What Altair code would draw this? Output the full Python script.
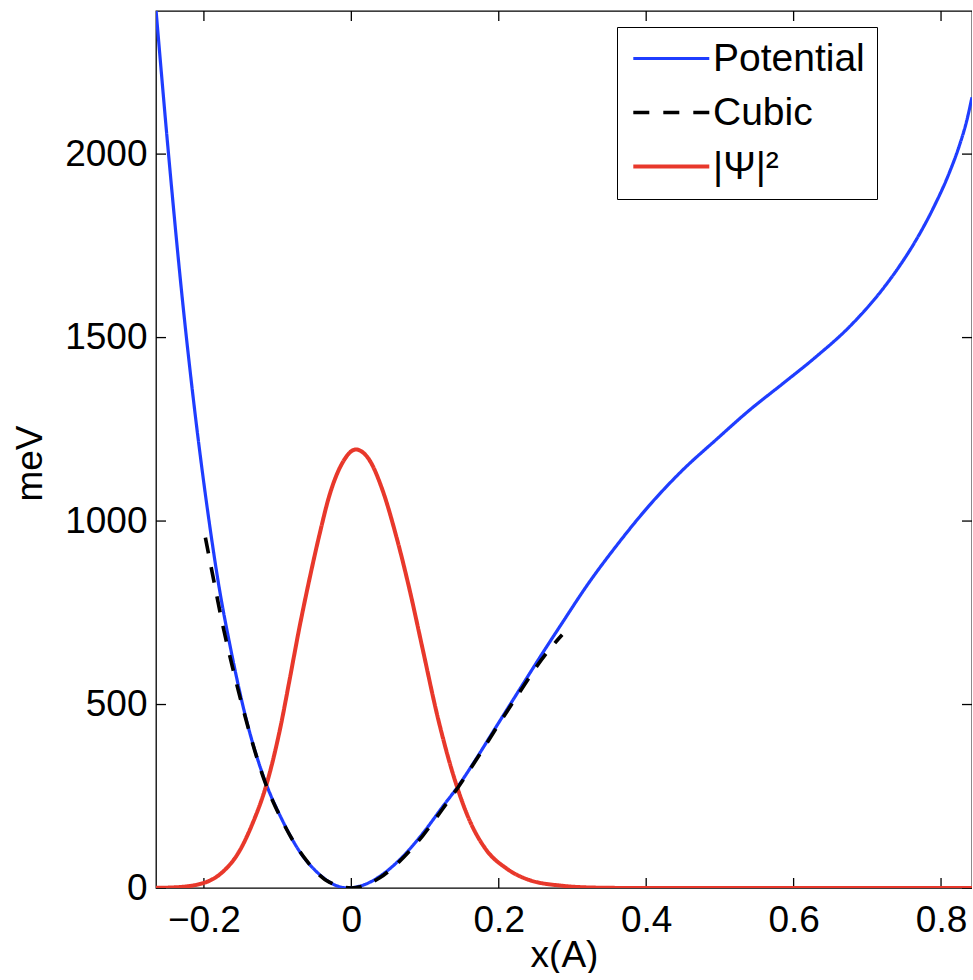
import altair as alt
import pandas as pd

# ---- data ----
pot_x = [-0.265, -0.248, -0.229, -0.213, -0.193, -0.179, -0.165, -0.143, -0.120, -0.093,
         -0.071, -0.048, -0.021, -0.005, 0.015, 0.038, 0.065, 0.097, 0.124, 0.144,
         0.169, 0.192, 0.232, 0.268, 0.282, 0.323, 0.359, 0.404, 0.449, 0.495,
         0.540, 0.585, 0.630, 0.675, 0.720, 0.743, 0.765, 0.790, 0.811, 0.825,
         0.835, 0.842]
pot_y = [2393, 2000, 1600, 1310, 1000, 815, 665, 463, 308, 182,
         102, 46, 7, 0, 7, 31, 76, 149, 222, 275,
         351, 425, 553, 667, 710, 834, 931, 1042, 1138, 1222,
         1302, 1374, 1447, 1528, 1630, 1693, 1762, 1855, 1948, 2024,
         2092, 2155]

cub_x = [-0.198, -0.188, -0.174, -0.161, -0.145, -0.120, -0.093, -0.061, -0.030, 0.0,
         0.038, 0.065, 0.097, 0.124, 0.144, 0.169, 0.205, 0.232, 0.250, 0.268, 0.286]
cub_y = [955, 852, 712, 600, 474, 305, 180, 75, 16, 0,
         27, 72, 143, 216, 272, 348, 462, 545, 600, 648, 690]

psi_x = [-0.265, -0.238, -0.200, -0.175, -0.152, -0.134, -0.116, -0.096, -0.084, -0.071,
         -0.057, -0.043, -0.030, -0.012, 0.006, 0.024, 0.042, 0.061, 0.079, 0.097,
         0.117, 0.144, 0.160, 0.183, 0.210, 0.241, 0.287, 0.332, 0.360, 0.400, 0.842]
psi_y = [0.4, 2, 14, 43, 100, 176, 276, 440, 565, 704,
         840, 965, 1068, 1159, 1195, 1168, 1086, 958, 813, 649,
         467, 272, 186, 104, 54, 22, 6, 1, 0.3, 0, 0]

x_ticks = [-0.2, 0, 0.2, 0.4, 0.6, 0.8]
y_ticks = [0, 500, 1000, 1500, 2000]
series_names = ["Potential", "Cubic", "|Ψ|²"]
series_colors = ["#1f3dff", "#000000", "#e8382b"]
series_dash = [[1, 0], [16, 14], [1, 0]]
series_width = [3.2, 4, 3]

rows = []
for name, xs, ys in [(series_names[0], pot_x, pot_y),
                     (series_names[2], psi_x, psi_y),
                     (series_names[1], cub_x, cub_y)]:
    for a, b in zip(xs, ys):
        rows.append({"series": name, "x": a, "y": b})
df = pd.DataFrame(rows)
xt = pd.DataFrame({"x": x_ticks})
yt = pd.DataFrame({"y": y_ticks})

W, H = 816, 877
FONT = "Liberation Sans"
FS = 37
xscale = alt.Scale(domain=[-0.265, 0.842], nice=False, zero=False)
yscale = alt.Scale(domain=[0, 2390], nice=False, zero=False)

legend = alt.Legend(title=None, orient="none", legendX=461, legendY=16)

lines = alt.Chart(df).mark_line(interpolate="monotone", clip=True).encode(
    x=alt.X("x:Q", scale=xscale,
            axis=alt.Axis(title="x(A)", values=x_ticks, format="~g", labelPadding=14,
                          titleY=67, titleBaseline="middle", titleX=408)),
    y=alt.Y("y:Q", scale=yscale,
            axis=alt.Axis(title="meV", values=y_ticks, format="d", labelPadding=9,
                          titleX=-126, titleY=452, titleBaseline="middle",
                          titleAlign="center", titleAngle=270)),
    color=alt.Color("series:N", scale=alt.Scale(domain=series_names, range=series_colors),
                    legend=legend),
    strokeDash=alt.StrokeDash("series:N", scale=alt.Scale(domain=series_names, range=series_dash),
                              legend=legend),
    strokeWidth=alt.StrokeWidth("series:N",
                                scale=alt.Scale(domain=series_names, range=series_width),
                                legend=None),
)

tick_style = dict(color="black", strokeWidth=1.3)
bottom_ticks = alt.Chart(xt).mark_rule(**tick_style).encode(
    x=alt.X("x:Q", scale=xscale), y=alt.value(H), y2=alt.value(H - 10))
top_ticks = alt.Chart(xt).mark_rule(**tick_style).encode(
    x=alt.X("x:Q", scale=xscale), y=alt.value(0), y2=alt.value(10))
left_ticks = alt.Chart(yt).mark_rule(**tick_style).encode(
    y=alt.Y("y:Q", scale=yscale), x=alt.value(0), x2=alt.value(10))
right_ticks = alt.Chart(yt).mark_rule(**tick_style).encode(
    y=alt.Y("y:Q", scale=yscale), x=alt.value(W), x2=alt.value(W - 10))

chart = alt.layer(bottom_ticks, top_ticks, left_ticks, right_ticks, lines).properties(
    width=W, height=H,
    autosize=alt.AutoSizeParams(type="none"),
    padding={"left": 156, "top": 11, "right": 0, "bottom": 85},
).configure_view(
    stroke="black", strokeWidth=1.3
).configure_axis(
    labelFont=FONT, labelFontSize=FS, labelColor="black", titleFont=FONT,
    titleFontSize=FS, titleFontWeight="normal", titleColor="black",
    ticks=False, domain=False, grid=False, labelFlush=False, labelOverlap=False,
).configure_legend(
    symbolType="M-1,0H4", symbolSize=924, symbolStrokeWidth=3.5,
    labelFont=FONT, labelFontSize=39, labelColor="black", labelOffset=45,
    rowPadding=14, padding=12, strokeColor="black", fillColor="white",
    cornerRadius=0, labelLimit=400,
)

chart.save("out.html", embed_options={"renderer": "svg", "actions": False})
